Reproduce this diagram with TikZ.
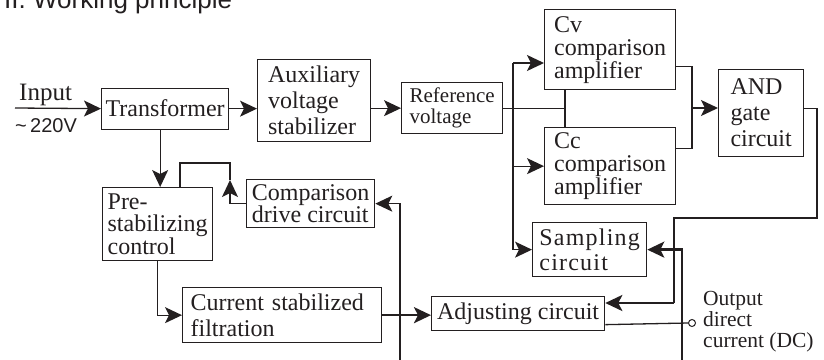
\documentclass[tikz,border=0pt]{standalone}
\usepackage{fontspec}
\setmainfont{Liberation Serif}
\setsansfont{Liberation Sans}
\usetikzlibrary{arrows.meta}
\definecolor{ink}{HTML}{231F20}
\tikzset{
  blk/.style={
    draw=ink, line width=1.3pt, align=left, inner sep=3pt, text=ink,
    anchor=north west, font=\fontsize{24}{24}\selectfont,
  },
  wire/.style ={draw=ink, line width=1.3pt},
  flow/.style ={wire, -{Stealth[length=17pt, width=16pt, inset=4pt]}},
  heavy/.style={flow, line width=2.4pt},
  lbl/.style  ={text=ink, inner sep=0pt},
}

\begin{document}
\begin{tikzpicture}[x=1pt, y=-1pt]
\useasboundingbox (0,0) rectangle (824,359);

% ------------------------------------------------------------- title
\node[lbl, anchor=base west, font=\sffamily\fontsize{26}{26}\selectfont] (title) at (4,8)
  {II. Working principle};

% ------------------------------------------------------------- blocks
\node[blk, minimum width=127pt, minimum height=41pt, align=center] (trans) at (101,87.5) {Transformer};
\node[blk, minimum width=113pt, minimum height=82pt, font=\fontsize{24}{26}\selectfont] (aux) at (257,59)
  {Auxiliary\\voltage\\stabilizer};
\node[blk, minimum width=101pt, minimum height=51pt, font=\fontsize{21}{21}\selectfont] (ref) at (401,82)
  {Reference\\voltage};
\node[blk, minimum width=131pt, minimum height=80pt, font=\fontsize{24}{23}\selectfont] (cv) at (544,9)
  {Cv\\comparison\\amplifier};
\node[blk, minimum width=131pt, minimum height=77pt, font=\fontsize{24}{23}\selectfont] (cc) at (544,127)
  {Cc\\comparison\\amplifier};
\node[blk, minimum width=85pt, minimum height=87pt, font=\fontsize{24}{26}\selectfont] (and) at (718,69)
  {AND\\gate\\circuit};
\node[blk, minimum width=114pt, minimum height=54pt,
      font=\fontsize{24}{25}\selectfont\addfontfeature{LetterSpace=5}] (samp) at (532,222)
  {Sampling\\circuit};
\node[blk, minimum width=128pt, minimum height=48pt, font=\fontsize{24}{21}\selectfont] (cdrive) at (246,179)
  {Comparison\\drive circuit};
\node[blk, minimum width=110pt, minimum height=73pt, font=\fontsize{24}{22.5}\selectfont] (pre) at (102,187)
  {Pre-\\stabilizing\\control};
\node[blk, text width=183pt, inner xsep=8pt, minimum height=55pt, font=\fontsize{24}{26}\selectfont] (cur) at (182,287)
  {Current stabilized\\filtration};
\node[blk, minimum width=173pt, minimum height=34pt] (adj) at (431,296) {Adjusting circuit};

% ------------------------------------------------------------- input / output
\coordinate (inp) at (15,108);
\draw[flow] (inp) -- (trans.west);
\node[lbl, anchor=base west, font=\fontsize{25}{25}\selectfont] (inlbl) at (19,100) {Input};
\node[lbl, anchor=base west, font=\sffamily\fontsize{20}{20}\selectfont] (involt) at (15,132)
  {\textasciitilde\,220V};

\node[circle, draw=ink, line width=1pt, fill=white, inner sep=0pt, minimum size=7pt] (outc) at (692,323) {};
\node[lbl, anchor=north west, align=left, font=\fontsize{21.5}{21}\selectfont] (outlbl) at (703,291)
  {Output\\direct\\current (DC)};
\draw[wire] ([yshift=-11pt]adj.east) -- (outc.west);

% ------------------------------------------------------------- main chain
\draw[flow] (trans.east) -- (trans.east -| aux.west);
\draw[flow] (ref.west -| aux.east) -- (ref.west);

\coordinate (jx) at (565,0);
\draw[wire] (ref.east) -- (ref.east -| jx);
\draw[wire] (cv.south -| jx) -- (cc.north -| jx);

% bus to the two amplifiers and the sampling circuit
\coordinate (bus) at (513,63);
\draw[flow] (bus) -- (bus -| cv.west);
\draw[flow] (bus |- cc.west) -- (cc.west);
\draw[flow] (bus) |- (samp.west);

% amplifiers into the AND gate
\coordinate (andin) at (692,108);
\draw[wire] ([yshift=-17pt]cv.east) -| (andin) |- ([yshift=17.5pt]cc.east);
\draw[flow] (andin) -- (andin -| and.west);

% AND gate back to the adjusting circuit
\coordinate (ret1) at (817,218);
\coordinate (ret2) at (674,303);
\draw[wire] ([yshift=4.5pt]and.east) -| (ret1) -| (ret2);
\draw[heavy] (ret2) -- (ret2 -| adj.east);

% ------------------------------------------------------------- lower loop
\draw[flow] ([xshift=-5pt]trans.south) -- ([xshift=-5pt]trans.south |- pre.north);
\draw[flow] (pre.south) |- (cur.west);
\draw[heavy] (cur.east) -- (cur.east -| adj.west);

\coordinate (cdbot) at (400,362);
\draw[flow] (cdbot) |- (cdrive.east);

\coordinate (cdup) at (230,180);
\coordinate (prein) at (180,163);
\draw[flow] (cdrive.west) -| (cdup);
\draw[wire] (cdup) |- (prein) -- (prein |- pre.north);

\coordinate (smbot) at (682,362);
\draw[heavy] (smbot) |- (samp.east);

\end{tikzpicture}
\end{document}
